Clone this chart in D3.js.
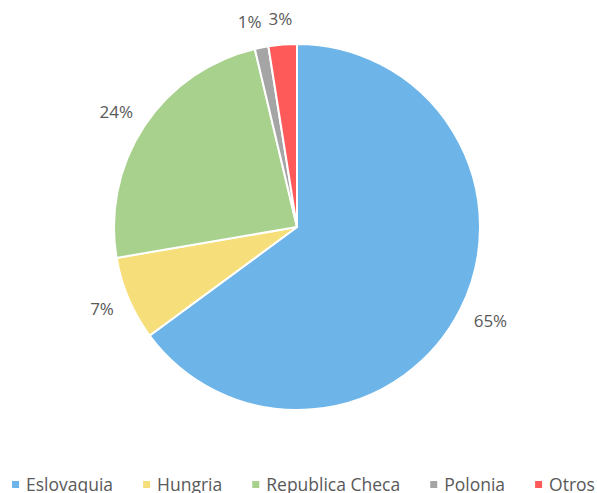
<html>
<head>
<style>
  body { margin: 0; background: #fff; }
  text { font-family: "Open Sans", "Segoe UI", sans-serif; fill: #595959; }
</style>
</head>
<body>
<svg id="chart" width="597" height="493"></svg>
<script src="https://cdn.jsdelivr.net/npm/d3@7"></script>
<script>
// data
let countries = ["Eslovaquia", "Hungria", "Republica Checa", "Polonia", "Otros"]
let shares    = [64.9, 7.4, 24.0, 1.2, 2.5]
let colors    = ["#6db5e9", "#f6de7b", "#a9d18e", "#a5a5a5", "#ff5a5a"]

let data = countries.map((c, i) => ({ name: c, value: shares[i] }))

let svg = d3.select("#chart")
let cx = 297, cy = 227, radius = 183

let color = d3.scaleOrdinal().domain(countries).range(colors)

let pie = d3.pie().sort(null).value(d => d.value)
let arc = d3.arc().innerRadius(0).outerRadius(radius)
let arcs = pie(data)

let body = svg.append("g").attr("transform", "translate(" + cx + "," + cy + ")")

body.selectAll("path")
    .data(arcs)
    .enter().append("path")
    .attr("d", arc)
    .attr("fill", d => color(d.data.name))
    .attr("stroke", "#fff")
    .attr("stroke-width", 2)

// labels outside the slice end, box pushed away from the pie
let gap = 17
let labels = body.selectAll("text.lbl")
    .data(arcs)
    .enter().append("text")
    .attr("class", "lbl")
    .attr("text-anchor", "middle")
    .attr("dy", "0.35em")
    .style("font-size", "17px")
    .text(d => Math.round(d.data.value) + "%")

let boxes = []
labels.each(function(d) {
    let a = (d.startAngle + d.endAngle) / 2
    let w = this.getComputedTextLength(), h = 18
    let sx = Math.sin(a), sy = -Math.cos(a)
    let x = (radius + gap) * sx + sx * w / 2
    let y = (radius + gap) * sy + sy * h / 2
    boxes.push({ node: this, x: x, y: y, w: w })
})
// nudge overlapping neighbours apart (right to left)
for (let i = boxes.length - 1; i > 0; i--) {
    let b = boxes[i], p = boxes[i - 1]
    if (Math.abs(b.y - p.y) < 18 && p.x < b.x) {
        let maxRight = b.x - b.w / 2 - 7
        if (p.x + p.w / 2 > maxRight) p.x = maxRight - p.w / 2
    }
}
boxes.forEach(b => d3.select(b.node).attr("x", b.x).attr("y", b.y))

// legend
let legend = svg.append("g")
let items = legend.selectAll("g")
    .data(countries)
    .enter().append("g")

items.append("rect")
    .attr("width", 7).attr("height", 7)
    .attr("y", 481)
    .attr("fill", d => color(d))

items.append("text")
    .attr("x", 14)
    .attr("y", 491)
    .style("font-size", "17.5px")
    .text(d => d)

let xPos = 0, widths = []
items.each(function() {
    let w = d3.select(this).select("text").node().getComputedTextLength()
    widths.push(w)
})
let itemGap = 30
let total = d3.sum(widths, w => w + 14) + itemGap * (widths.length - 1)
xPos = 303.5 - total / 2
items.each(function(d, i) {
    d3.select(this).attr("transform", "translate(" + xPos + ",0)")
    xPos += widths[i] + 14 + itemGap
})
</script>
</body>
</html>
